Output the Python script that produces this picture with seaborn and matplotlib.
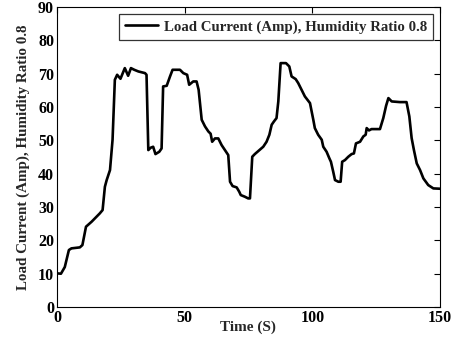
import matplotlib
matplotlib.use("Agg")
import matplotlib.pyplot as plt
import seaborn as sns
import pandas as pd

# Load current trace, humidity ratio 0.8
time_s = [0, 1.6, 3.1, 4.7, 5.7, 9, 10, 11.4, 13.6, 16.8, 17.9, 18.8, 19.5, 20.8,
          21.8, 22.7, 23.6, 24.9, 26.6, 27.9, 29, 30.3, 31.9, 34.5, 35.1, 35.8,
          36.7, 37.7, 38.6, 40.1, 41, 41.6, 43, 44.3, 45.3, 48.2, 49.5, 51, 51.8,
          53.4, 54.7, 55.5, 56.7, 58, 59.3, 60.2, 60.8, 61.9, 63.2, 64.5, 65.8,
          67.1, 67.8, 68.8, 70.4, 71.4, 72, 73.6, 74.9, 75.6, 76.5, 77.5, 80.8,
          82.1, 83.2, 84.1, 85, 86, 86.7, 87.6, 89.7, 91, 91.9, 93.5, 94.5, 95.8,
          97.1, 99.1, 100.4, 101, 102.3, 103.7, 104.3, 105.6, 106.7, 107.3, 108.2,
          108.9, 110.2, 111.1, 111.7, 112.8, 114.1, 115.4, 116.3, 117.1, 118.7,
          120, 120.9, 121.3, 122.2, 123.2, 126.5, 127.8, 128.9, 129.8, 131.1,
          134.3, 136.9, 138, 138.9, 139.8, 140.9, 142.2, 143.5, 145.4, 147.4, 150]
current_amp = [10.1, 10, 12, 17.1, 17.6, 17.9, 18.6, 24.1, 25.6, 28.1, 29.1, 36.1,
               38.1, 41.1, 50.2, 68.2, 69.7, 68.5, 71.7, 69.4, 71.7, 71.2, 70.7,
               70.2, 69.7, 47.1, 47.8, 48.1, 45.9, 46.6, 47.6, 66.2, 66.4, 69.2,
               71.2, 71.2, 70.2, 69.7, 66.7, 67.7, 67.7, 65.2, 56.2, 54.2, 52.7,
               52, 49.6, 50.6, 50.6, 48.6, 47.1, 45.6, 37.6, 36.3, 35.9, 34.6,
               33.6, 33.1, 32.6, 32.6, 45.1, 45.9, 48.1, 49.6, 51.7, 54.7, 55.7,
               56.7, 61.7, 73.2, 73.2, 72.2, 69.2, 68.4, 67.2, 65.2, 63.2, 61.2,
               56.2, 53.7, 51.7, 50.2, 48.1, 46.6, 44.6, 43.6, 40.6, 38.1, 37.6,
               37.6, 43.6, 44.1, 45.1, 45.9, 46.1, 49.1, 49.6, 51.2, 51.7, 53.7,
               53, 53.4, 53.4, 56.7, 60.4, 62.7, 61.7, 61.5, 61.5, 57.2, 50.7,
               47.1, 43.1, 41.1, 38.6, 36.6, 35.6, 35.5]

x_ticks = [0, 50, 100, 150]
y_ticks = [0, 10, 20, 30, 40, 50, 60, 70, 80, 90]
series_label = "Load Current (Amp), Humidity Ratio 0.8"

sns.set_style("white")
plt.rcParams["font.family"] = ["Liberation Serif", "DejaVu Serif"]
plt.rcParams["font.weight"] = "bold"

df = pd.DataFrame({"Time": time_s, "Current": current_amp})

fig = plt.figure(figsize=(4.55, 3.4), dpi=100)
ax = fig.add_axes([0.125, 0.097, 0.842, 0.882])

sns.lineplot(data=df, x="Time", y="Current", ax=ax, color="black",
             linewidth=1.9, label=series_label, sort=False)

ax.set_xlim(0, 150)
ax.set_ylim(0, 90)
ax.set_xticks(x_ticks)
ax.set_yticks(y_ticks)
ax.tick_params(direction="in", length=4, width=0.8, top=True, right=True,
               labelsize=11.5, pad=2, colors="black")
for lbl in ax.get_xticklabels() + ax.get_yticklabels():
    lbl.set_fontweight("bold")
for sp in ax.spines.values():
    sp.set_color("black")
    sp.set_linewidth(0.8)

ax.set_xlabel("Time (S)", fontsize=11, fontweight="bold", labelpad=-4)
ax.set_ylabel(series_label, fontsize=10.8, fontweight="bold", labelpad=6)

leg = ax.legend(loc="upper right", frameon=True, fancybox=False,
                prop={"family": "Liberation Serif", "weight": "bold", "size": 10.7},
                handlelength=2.2, borderpad=0.42, borderaxespad=0.45,
                handletextpad=0.4)
leg.get_frame().set_edgecolor("black")
leg.get_frame().set_linewidth(0.9)

fig.savefig("out.png", dpi=100)
